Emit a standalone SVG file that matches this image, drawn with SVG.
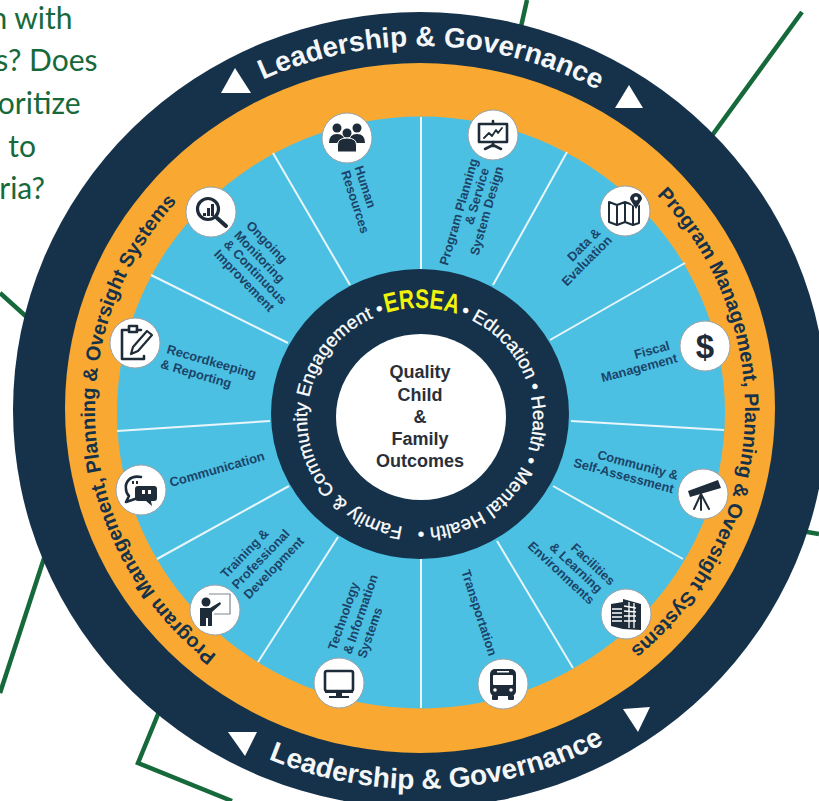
<svg xmlns="http://www.w3.org/2000/svg" width="819" height="801" viewBox="0 0 819 801">
<style>
.gov{font:bold 28px "Liberation Sans",Arial,sans-serif;fill:#f4f6f8;text-anchor:middle}
.pm{font:bold 20px "Liberation Sans",Arial,sans-serif;fill:#15324a;text-anchor:middle}
.hub{font:18.8px "Liberation Sans",Arial,sans-serif;fill:#fff;stroke:#fff;stroke-width:.3}
.ers{font:bold 27px "Liberation Sans",Arial,sans-serif;fill:#f2f20a}
.lab{font:bold 12.8px "Liberation Sans",Arial,sans-serif;fill:#1b4468}
.mid{text-anchor:middle}.end{text-anchor:end}
.ctr{font:bold 18px "Liberation Sans",Arial,sans-serif;fill:#2a2f3a;text-anchor:middle}
.q{font:30px Lato,"Open Sans",sans-serif;fill:#16693a;text-anchor:end}
.disc{fill:#fff;stroke:#9aa3a8;stroke-width:1}
.spoke{stroke:#e8f6fb;stroke-width:2;fill:none}
.link{stroke:#16693a;stroke-width:4.5;fill:none}
.i{fill:#1e2b38}.o{fill:none;stroke:#1e2b38;stroke-width:2.6;stroke-linejoin:round;stroke-linecap:round}
.w{fill:#fff}
</style>
<defs>
<path id="pTop" d="M47,410 A373,364 0 0 1 793,410"/>
<path id="pBot" d="M32,410 A388,379 0 0 0 808,410"/>
<path id="pR" d="M420,96 A325,314 0 0 1 420,724"/>
<path id="pL" d="M420,724 A325,314 0 0 1 420,96"/>
<path id="pHub" d="M420,528 A113,110 0 1 1 420,308 A113,110 0 1 1 420,528"/>
</defs>

<g id="connectors">
<path class="link" d="M527,0 L518,40"/>
<path class="link" d="M802,12 L700,152"/>
<path class="link" d="M790,529 L819,534"/>
<path class="link" d="M0,293 L40,329"/>
<path class="link" d="M50,540 L0,693"/>
<path class="link" d="M170,685 L138,763 L232,801"/>
</g>

<g id="questions">
<text class="q" x="72.5" y="29">n with</text>
<text class="q" x="97.5" y="71">s? Does</text>
<text class="q" x="80.5" y="114">oritize</text>
<text class="q" x="36" y="157">to</text>
<text class="q" x="45" y="199">ria?</text>
</g>

<g id="wheel">
<ellipse cx="420" cy="410" rx="407" ry="398" fill="#15324a"/>
<ellipse cx="420" cy="408" rx="355" ry="345" fill="#f9a932"/>
<ellipse cx="421" cy="412.5" rx="304" ry="296" fill="#4cc0e3"/>
<g id="spokes">
<path class="spoke" d="M421,117V272M421,558V708"/>
<path class="spoke" d="M567,152L493,285M685,263L550,340M724,430L571,421M683,559L553,486M573,668L497,541"/>
<path class="spoke" d="M258,662L338,537M157,559L289,486M117,431L270,421M151,275L288,343M273,153L350,285"/>
</g>
<ellipse cx="420" cy="414" rx="149" ry="145" fill="#15324a"/>
<ellipse cx="421" cy="417" rx="85" ry="83" fill="#fff"/>
</g>

<g id="band-leadership">
<text class="gov"><textPath href="#pTop" startOffset="51%">Leadership &amp; Governance</textPath></text>
<text class="gov"><textPath href="#pBot" startOffset="51.500%">Leadership &amp; Governance</textPath></text>
<polygon class="w" points="235,68 221,93 251,93"/>
<polygon class="w" points="629,85 615,108 643,108"/>
<polygon class="w" points="228,732 257,732 245,756"/>
<polygon class="w" points="623,709 650,707 638,732"/>
</g>

<g id="band-program">
<text class="pm"><textPath href="#pR" startOffset="51.800%">Program Management, Planning &amp; Oversight Systems</textPath></text>
<text class="pm"><textPath href="#pL" startOffset="47.300%">Program Management, Planning &amp; Oversight Systems</textPath></text>
</g>

<g id="hub-ring">
<text class="hub"><textPath href="#pHub" startOffset="17">Family &amp; Community Engagement •</textPath></text>
<text class="ers"><textPath href="#pHub" startOffset="316" textLength="72" lengthAdjust="spacingAndGlyphs">ERSEA</textPath></text>
<text class="hub"><textPath href="#pHub" startOffset="391">• Education • Health • Mental Health •</textPath></text>
</g>

<g id="center">
<text class="ctr" x="420" y="378">Quality</text>
<text class="ctr" x="420" y="400.5">Child</text>
<text class="ctr" x="420" y="423">&amp;</text>
<text class="ctr" x="420" y="445">Family</text>
<text class="ctr" x="420" y="467">Outcomes</text>
</g>

<g id="n-human">
<circle class="disc" cx="347" cy="138" r="25"/>
<g transform="translate(347,138)">
<circle class="i" cx="-10" cy="-10" r="4.5"/><circle class="i" cx="10" cy="-10" r="4.5"/><circle class="i" cx="0" cy="-5" r="4.5"/>
<path class="i" d="M-18,5q0,-9 8,-9q8,0 8,9zM2,5q0,-9 8,-9q8,0 8,9z"/>
<path class="i" stroke="#fff" d="M-9.500,14v-7q0,-7 9.500,-7q9.500,0 9.500,7v7z"/>
</g>
<text class="lab mid" transform="translate(356,200) rotate(72)"><tspan x="-9.600" y="-8.600">Human</tspan><tspan x="1.600" y="5.600">Resources</tspan></text>
</g>

<g id="n-planning">
<circle class="disc" cx="493" cy="135" r="25"/>
<g transform="translate(493,135)">
<rect class="o" x="-14" y="-11" width="28" height="18"/>
<path class="o" style="stroke-width:1.800" d="M-9,3L-4,-2L-1,1L3,-5L5,-2L9,-7"/>
<path class="o" d="M0,-14V-11M0,7V11M-8,14L0,10L8,14"/>
</g>
<text class="lab mid" transform="translate(474,212) rotate(-74)"><tspan x="-4" y="-10.400">Program Planning</tspan><tspan x="16" y="2.800">&amp; Service</tspan><tspan x="4.600" y="16.200">System Design</tspan></text>
</g>

<g id="n-data">
<circle class="disc" cx="625" cy="211" r="25"/>
<g transform="translate(625,211)">
<path class="o" style="stroke-width:2" d="M-16,-9L-8,-6L0,-9L8,-6L14,-8V12L8,14L0,11L-8,14L-16,11ZM-8,-6V14M0,-9V11M8,-6V14"/>
<circle class="w" cx="11" cy="-12" r="7"/>
<path class="i" d="M11,-2L5,-12a6,6 0 1 1 12,0z"/>
<circle class="w" cx="11" cy="-12.500" r="2"/>
</g>
<text class="lab mid" transform="translate(587,257) rotate(-45)"><tspan x="6.400" y="-6.600">Data &amp;</tspan><tspan x="-2.800" y="6.800">Evaluation</tspan></text>
</g>

<g id="n-fiscal">
<circle class="disc" cx="705" cy="346" r="25"/>
<text x="705" y="358" text-anchor="middle" style="font:bold 33px 'Liberation Sans',Arial,sans-serif;fill:#1e2b38">$</text>
<text class="lab end" transform="translate(678,362) rotate(-15)"><tspan x="-4" y="-14">Fiscal</tspan><tspan x="0" y="0">Management</tspan></text>
</g>

<g id="n-community">
<circle class="disc" cx="703" cy="494" r="25"/>
<g transform="translate(703,494)">
<path class="i" d="M-15,-3L15,-14L18,-6L-13,3z"/>
<path class="o" style="stroke-width:2" d="M-2,0L-9,15M-2,0V16M-2,0L6,15"/>
</g>
<text class="lab end" transform="translate(677,480) rotate(15)"><tspan x="0" y="0">Community &amp;</tspan><tspan x="-1" y="14">Self-Assessment</tspan></text>
</g>

<g id="n-facilities">
<circle class="disc" cx="626" cy="614" r="25"/>
<g transform="translate(626,614)">
<path class="i" d="M-15,-10L-3,-12L-3,15L-15,12z"/>
<path class="i" d="M-3,-15L15,-10V16L-3,15z"/>
<path stroke="#fff" stroke-width="1.300" d="M-14,-5H-4M-14,-1H-4M-14,3H-4M-14,7H-4M-2,-8L10,-6M-2,-3L10,-2M-2,2L10,2M-2,7L10,7M3,-12V14M8,-11V14"/>
</g>
<text class="lab end" transform="translate(610,586) rotate(43)"><tspan x="0" y="0">Facilities</tspan><tspan x="-4" y="14">&amp; Learning</tspan><tspan x="-2" y="28">Environments</tspan></text>
</g>

<g id="n-transport">
<circle class="disc" cx="503" cy="684" r="25"/>
<g transform="translate(503,684)">
<rect class="i" x="-13" y="-15" width="26" height="27" rx="5"/>
<rect class="w" x="-10" y="-9" width="20" height="10" rx="1"/>
<rect class="i" x="-11" y="11" width="6" height="5" rx="1"/><rect class="i" x="5" y="11" width="6" height="5" rx="1"/>
<circle class="w" cx="-8" cy="6" r="1.800"/><circle class="w" cx="8" cy="6" r="1.800"/>
<rect class="w" x="-6" y="-13" width="12" height="1.500"/>
</g>
<text class="lab mid" transform="translate(475,614) rotate(72)">Transportation</text>
</g>

<g id="n-technology">
<circle class="disc" cx="339" cy="683" r="25"/>
<g transform="translate(339,683)">
<rect class="o" x="-14" y="-12" width="28" height="20" rx="2"/>
<path class="i" d="M-14,7h28v3h-28zM-3,10h6v3h-6zM-10,13h20v2h-20z"/>
</g>
<text class="lab" transform="translate(336,651) rotate(-71)"><tspan x="0" y="0">Technology</tspan><tspan x="1" y="15.500">&amp; Information</tspan><tspan x="2" y="30.500">Systems</tspan></text>
</g>

<g id="n-training">
<circle class="disc" cx="215" cy="610" r="25"/>
<g transform="translate(215,610)">
<circle class="i" cx="-9" cy="-8" r="4.500"/>
<path class="i" d="M-15,-2h10l10,-6l1,2l-9,8v14h-4v-8h-2v8h-6z"/>
<path fill="none" stroke="#7c8790" stroke-width="1.200" d="M-6,-16H15V4H-1"/>
</g>
<text class="lab" transform="translate(226,579) rotate(-46)"><tspan x="0" y="0">Training &amp;</tspan><tspan x="0" y="15.500">Professional</tspan><tspan x="1" y="31">Development</tspan></text>
</g>

<g id="n-communication">
<circle class="disc" cx="141" cy="490" r="25"/>
<g transform="translate(141,490)">
<path class="o" d="M0,-13C-12,-15 -16,-7 -15,-1C-15,3 -13,5 -12,6L-15,12L-6,9"/>
<path class="i" d="M-3,-4h16a3,3 0 0 1 3,3v9a3,3 0 0 1 -3,3h-3l1,5l-6,-5h-8a3,3 0 0 1 -3,-3v-9a3,3 0 0 1 3,-3z"/>
<path class="i" d="M-9,-9h2v3h-2zM-5,-9h2v3h-2z"/>
<path class="w" d="M1,0h3v4h-3zM7,0h3v4h-3z"/>
</g>
<text class="lab" transform="translate(171,487) rotate(-16)" style="font-size:13px">Communication</text>
</g>

<g id="n-record">
<circle class="disc" cx="135" cy="343" r="25"/>
<g transform="translate(135,343)">
<path class="o" d="M9,13V16H-13V-13H-7M2,-13H6"/>
<rect class="o" x="-6" y="-17" width="8" height="6"/>
<path class="o" style="stroke-width:2.200" d="M-4,11L-2,4L12,-12L17,-8L3,8Z"/>
</g>
<text class="lab" transform="translate(166,353) rotate(16)"><tspan x="0" y="0">Recordkeeping</tspan><tspan x="-2" y="16">&amp; Reporting</tspan></text>
</g>

<g id="n-monitoring">
<circle class="disc" cx="211" cy="212" r="25"/>
<g transform="translate(211,212)">
<circle class="o" style="stroke-width:3.200" cx="-3" cy="-3" r="10.500"/>
<path class="i" d="M-8,1h3v3h-3zM-4,-4h3v8h-3zM0,-8h3v12h-3z"/>
<path class="o" style="stroke-width:4" d="M6,6L15,14"/>
</g>
<text class="lab mid" transform="translate(256,263) rotate(46)"><tspan x="-7.500" y="-18">Ongoing</tspan><tspan x="-2" y="-2.500">Monitoring</tspan><tspan x="6" y="11">&amp; Continuous</tspan><tspan x="4.500" y="25">Improvement</tspan></text>
</g>
</svg>
